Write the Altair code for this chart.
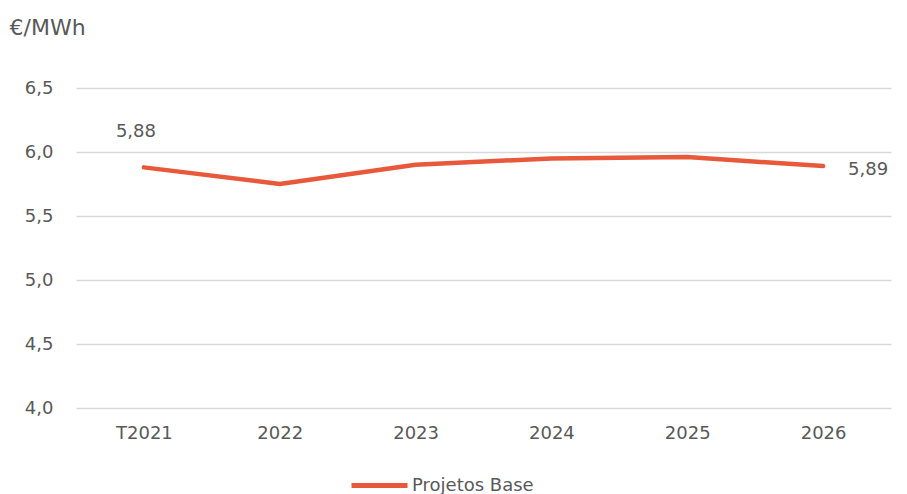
import altair as alt
import pandas as pd

years = ["T2021", "2022", "2023", "2024", "2025", "2026"]
values = [5.88, 5.75, 5.90, 5.95, 5.96, 5.89]
series = "Projetos Base"

df = pd.DataFrame({"ano": years, "valor": values, "serie": series})
df["rotulo"] = [f"{v:.2f}".replace(".", ",") for v in values]

font = "DejaVu Sans"
grey = "#595959"
color = "#E8593C"

x = alt.X("ano:N", sort=years, title=None,
          scale=alt.Scale(paddingInner=0, paddingOuter=0.5),
          axis=alt.Axis(labelAngle=0, labelFontSize=18, labelColor=grey, labelFont=font,
                        ticks=False, domain=False, labelPadding=16, grid=False))
y = alt.Y("valor:Q", scale=alt.Scale(domain=[4.0, 6.5], nice=False, zero=False),
          axis=alt.Axis(values=[4.0, 4.5, 5.0, 5.5, 6.0, 6.5],
                        labelExpr="replace(format(datum.value, '.1f'), '.', ',')",
                        labelFontSize=18, labelColor=grey, labelFont=font,
                        ticks=False, domain=False, labelPadding=23,
                        gridColor="#D9D9D9", gridWidth=1.5,
                        title="€/MWh", titleAngle=0, titleAlign="left",
                        titleBaseline="alphabetic", titleX=-67, titleY=-54,
                        titleFontSize=22, titleFontWeight="normal",
                        titleColor=grey, titleFont=font))

line = alt.Chart(df).mark_line(strokeWidth=4.5, strokeCap="round", strokeJoin="round").encode(
    x=x, y=y,
    color=alt.Color("serie:N", scale=alt.Scale(domain=[series], range=[color]),
                    legend=alt.Legend(title=None, orient="none", legendX=273, legendY=367,
                                      symbolType="stroke", symbolSize=3136,
                                      symbolStrokeWidth=5, labelFontSize=18,
                                      labelColor=grey, labelFont=font, labelOffset=2,
                                      direction="horizontal")))

first = alt.Chart(df[df["ano"] == years[0]]).mark_text(
    fontSize=18, font=font, color=grey, dx=-8, dy=-35).encode(x=x, y=y, text="rotulo:N")
last = alt.Chart(df[df["ano"] == years[-1]]).mark_text(
    fontSize=18, font=font, color=grey, align="left", dx=25, dy=4).encode(x=x, y=y, text="rotulo:N")

chart = alt.layer(line, first, last).properties(
    width=815, height=320,
    autosize=alt.AutoSizeParams(type="none"),
    padding={"left": 68, "top": 80, "right": 8, "bottom": 86},
).configure_view(stroke=None)

chart.save("out.html", embed_options={"renderer": "svg", "actions": False})
